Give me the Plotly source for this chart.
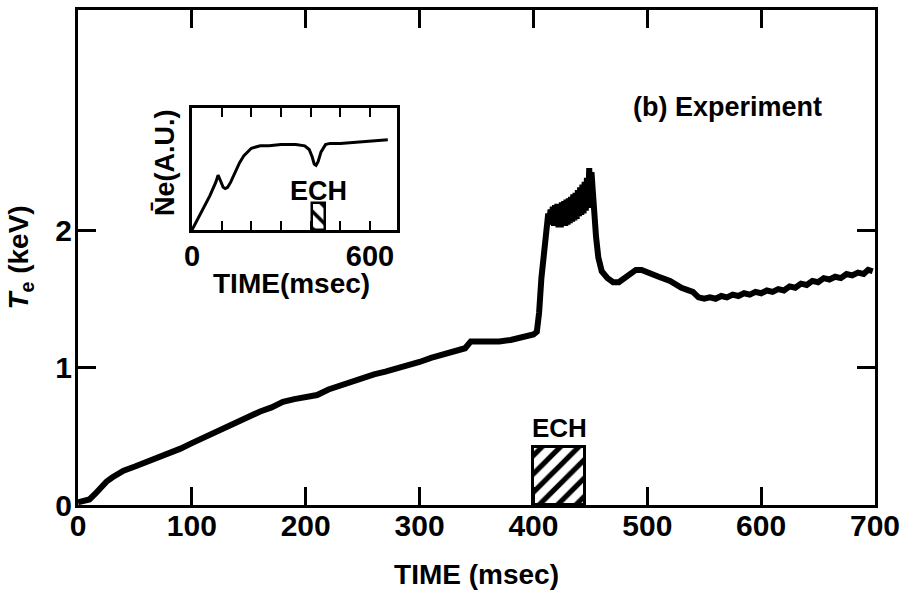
import plotly.graph_objects as go

# ---- main Te trace (time in msec, Te in keV) ----
time_ms = [0, 5, 10, 15, 20, 25, 30, 35, 40, 50, 60, 70, 80, 90, 100, 110, 120, 130, 140, 150,
           160, 170, 180, 190, 200, 210, 220, 230, 240, 250, 260, 270, 280, 290, 300, 310, 320,
           330, 340, 345, 350, 360, 370, 380, 390, 400, 403, 405, 407, 409, 411, 412,
           413, 414, 415, 416, 417, 418, 419, 420, 421, 422, 423, 424, 425, 426, 427, 428, 429,
           430, 431, 432, 433, 434, 435, 436, 437, 438, 439, 440, 441, 442, 443, 444, 445, 446,
           447, 448, 449, 450, 451, 452, 453, 455, 457, 460, 465, 470, 475, 480, 485, 490, 495,
           500, 510, 520, 530, 540, 545, 550, 555, 560, 565, 570, 575, 580, 585, 590, 595, 600,
           605, 610, 615, 620, 625, 630, 635, 640, 645, 650, 655, 660, 665, 670, 675, 680, 685,
           690, 694, 698]
te_kev = [0.02, 0.03, 0.04, 0.08, 0.13, 0.17, 0.20, 0.23, 0.25, 0.28, 0.31, 0.34, 0.37, 0.41, 0.45,
          0.49, 0.53, 0.57, 0.60, 0.64, 0.68, 0.71, 0.75, 0.77, 0.78, 0.80, 0.84, 0.87, 0.89, 0.92,
          0.95, 0.97, 0.99, 1.02, 1.04, 1.07, 1.09, 1.11, 1.14, 1.19, 1.19, 1.18, 1.19, 1.20, 1.22,
          1.24, 1.26, 1.40, 1.65, 1.85, 2.00, 2.06,
          2.12, 2.05, 2.15, 2.04, 2.17, 2.03, 2.18, 2.03, 2.19, 2.02, 2.19, 2.02, 2.20, 2.03, 2.21,
          2.03, 2.22, 2.04, 2.23, 2.05, 2.24, 2.06, 2.26, 2.07, 2.27, 2.08, 2.29, 2.10, 2.31, 2.11,
          2.33, 2.12, 2.35, 2.14, 2.38, 2.16, 2.45, 2.20, 2.42, 2.30, 2.15, 1.95, 1.80, 1.70, 1.65,
          1.62, 1.62, 1.65, 1.68, 1.71, 1.71, 1.69, 1.66, 1.63, 1.58, 1.55, 1.51, 1.50, 1.51, 1.50,
          1.52, 1.51, 1.53, 1.52, 1.54, 1.53, 1.55, 1.54, 1.56, 1.55, 1.57, 1.56, 1.59, 1.58, 1.61,
          1.60, 1.63, 1.62, 1.65, 1.64, 1.66, 1.65, 1.68, 1.67, 1.69, 1.68, 1.71, 1.70, 1.74, 1.71]

# ---- inset: line-averaged density (arbitrary units) ----
inset_time = [0, 20, 40, 60, 80, 88, 95, 105, 112, 120, 130, 140, 150, 160, 175, 190, 200, 215,
              230, 260, 300, 350, 380, 395, 405, 412, 418, 425, 435, 450, 465, 500, 550, 600, 650, 660]
inset_ne = [0.0, 0.09, 0.19, 0.28, 0.39, 0.45, 0.41, 0.35, 0.34, 0.35, 0.39, 0.44, 0.50, 0.55,
            0.61, 0.65, 0.67, 0.68, 0.69, 0.69, 0.70, 0.70, 0.69, 0.66, 0.60, 0.54, 0.53, 0.56,
            0.64, 0.70, 0.71, 0.71, 0.72, 0.73, 0.74, 0.74]

# ---- ECH pulse windows ----
ech_start = 400
ech_end = 445
ech_height = 0.42
inset_ech_start = 404
inset_ech_end = 448
inset_ech_height = 0.22

x_ticks = [0, 100, 200, 300, 400, 500, 600, 700]
y_ticks = [0, 1, 2]
inset_labels = [0, 600]

FONT = "Liberation Sans, Arial, sans-serif"
W, H = 902, 590
L, R, T, B = 78, 27, 10, 85
PW, PH = W - L - R, H - T - B


def px_to_paper(px, py):
    return (px - L) / PW, (H - B - py) / PH


fig = go.Figure()

fig.add_trace(go.Bar(
    x=[(ech_start + ech_end) / 2], y=[ech_height], width=[ech_end - ech_start], base=0,
    marker=dict(color="white", line=dict(color="black", width=3),
                pattern=dict(shape="/", fgcolor="black", bgcolor="white", fgopacity=1,
                             size=13, solidity=0.4)),
    showlegend=False, xaxis="x", yaxis="y"))

fig.add_trace(go.Scatter(
    x=time_ms, y=te_kev, mode="lines", line=dict(color="black", width=6),
    showlegend=False, xaxis="x", yaxis="y"))

fig.add_trace(go.Bar(
    x=[(inset_ech_start + inset_ech_end) / 2], y=[inset_ech_height],
    width=[inset_ech_end - inset_ech_start], base=0,
    marker=dict(color="white", line=dict(color="black", width=2.5),
                pattern=dict(shape="\\", fgcolor="black", bgcolor="white", fgopacity=1,
                             size=12, solidity=0.3)),
    showlegend=False, xaxis="x2", yaxis="y2"))

fig.add_trace(go.Scatter(
    x=inset_time, y=inset_ne, mode="lines", line=dict(color="black", width=3),
    showlegend=False, xaxis="x2", yaxis="y2"))

ex, ey = px_to_paper(727, 107)
nx, ny = px_to_paper(165, 163)
tx, ty = px_to_paper(291, 283)
ix0, iy0 = px_to_paper(192, 230)
ix1, iy1 = px_to_paper(397, 108)

fig.update_layout(
    width=W, height=H,
    margin=dict(l=L, r=R, t=T, b=B, autoexpand=False),
    paper_bgcolor="white", plot_bgcolor="white",
    font=dict(family=FONT, color="black", size=28, weight="bold"),
    bargap=0,
    xaxis=dict(
        range=[0, 700], tickvals=x_ticks, ticks="inside", ticklen=18, tickwidth=2.5,
        tickcolor="black", showline=True, linewidth=3, linecolor="black", mirror="ticks",
        showgrid=False, zeroline=False, tickfont=dict(size=30, weight="bold"),
        ticklabelstandoff=-8, automargin=False,
        title=dict(text="TIME (msec)", font=dict(size=28, weight="bold"), standoff=24),
    ),
    yaxis=dict(
        range=[0, 3.6], tickvals=y_ticks, ticks="inside", ticklen=18, tickwidth=2.5,
        tickcolor="black", showline=True, linewidth=3, linecolor="black", mirror="ticks",
        showgrid=False, zeroline=False, tickfont=dict(size=30, weight="bold"),
        ticklabelstandoff=-3, automargin=False,
        title=dict(text="<i>T</i><sub>e</sub> (keV)", font=dict(size=28, weight="bold"),
                   standoff=19),
    ),
    xaxis2=dict(
        domain=[ix0, ix1], anchor="y2", range=[0, 691],
        tickvals=inset_labels, ticks="inside", ticklen=9, tickwidth=2,
        minor=dict(dtick=100, tick0=0, ticks="inside", ticklen=9, tickwidth=2, tickcolor="black"),
        tickcolor="black", showline=True, linewidth=2.5, linecolor="black", mirror="ticks",
        showgrid=False, zeroline=False, tickfont=dict(size=29, weight="bold"),
        ticklabelstandoff=-2, automargin=False,
    ),
    yaxis2=dict(
        domain=[iy0, iy1], anchor="x2", range=[0, 1],
        showticklabels=False, ticks="", showline=True, linewidth=2.5, linecolor="black",
        mirror=True, showgrid=False, zeroline=False, automargin=False,
    ),
    annotations=[
        dict(text="(b) Experiment", x=ex, y=ey, xref="paper", yref="paper",
             showarrow=False, font=dict(size=27, weight="bold"),
             xanchor="center", yanchor="middle"),
        dict(text="ECH", x=(ech_start + ech_end) / 2, y=0.56, xref="x", yref="y",
             showarrow=False, font=dict(size=26, weight="bold"),
             xanchor="center", yanchor="middle"),
        dict(text="ECH", x=425, y=0.32, xref="x2", yref="y2",
             showarrow=False, font=dict(size=27, weight="bold"),
             xanchor="center", yanchor="middle"),
        dict(text="N\u0304e(A.U.)", x=nx, y=ny, xref="paper", yref="paper",
             showarrow=False, font=dict(size=27, weight="bold"), textangle=-90,
             xanchor="center", yanchor="middle"),
        dict(text="TIME(msec)", x=tx, y=ty, xref="paper", yref="paper",
             showarrow=False, font=dict(size=28, weight="bold"),
             xanchor="center", yanchor="middle"),
    ],
)

fig.write_html("out.html", config={"displayModeBar": False},
               post_script="document.body.style.margin='0';")
